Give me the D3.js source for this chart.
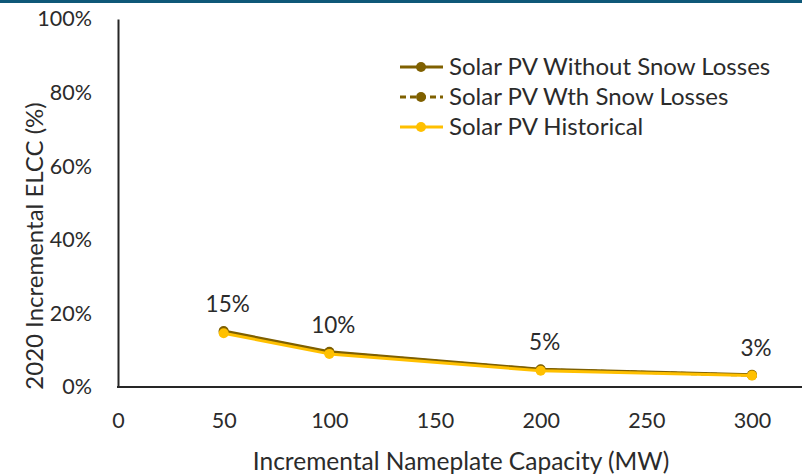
<!DOCTYPE html>
<html>
<head>
<meta charset="utf-8">
<script src="https://cdn.jsdelivr.net/npm/d3@7"></script>
<style>
  html, body { margin: 0; padding: 0; background: #fff; }
  svg { display: block; font-family: Lato, "Open Sans", sans-serif; font-weight: 400; }
</style>
</head>
<body>
<svg id="chart" width="802" height="475"></svg>
<script>
// Incremental nameplate capacity (MW) tested for each portfolio step
const capacity = [50, 100, 200, 300];

// Incremental ELCC (%) per series
const withoutSnow = [15.2, 9.6, 4.8, 3.3];
const withSnow = [15.0, 9.4, 4.7, 3.2];
const historical = [14.6, 9.0, 4.4, 3.1];

const seriesNames = ["Solar PV Without Snow Losses", "Solar PV Wth Snow Losses", "Solar PV Historical"];

const xTicks = [0, 50, 100, 150, 200, 250, 300];
const yTicks = [0, 20, 40, 60, 80, 100];

const svg = d3.select("#chart");
const W = 802, H = 475;

const x = d3.scaleLinear().domain([0, 300]).range([118, 752]);
const y = d3.scaleLinear().domain([0, 100]).range([387, 19]);

const textColor = "#2b2b2b";
const brown = "#7f6000";
const gold = "#ffc000";

// header rule across the top
svg.append("rect").attr("x", 0).attr("y", 0).attr("width", W).attr("height", 3).attr("fill", "#0e5878");

// y axis
const yAxis = svg.append("g").attr("transform", `translate(${x(0)},0)`)
  .call(d3.axisLeft(y).tickValues(yTicks).tickSize(0).tickPadding(26).tickFormat(d => d + "%"));
yAxis.select(".domain").attr("stroke", "#262626").attr("stroke-width", 2);
yAxis.selectAll("text").attr("fill", textColor).style("font-size", "21.5px");

// x axis (the line runs on to the right edge)
const xAxis = svg.append("g").attr("transform", `translate(0,${y(0)})`)
  .call(d3.axisBottom(x).tickValues(xTicks).tickSize(0).tickPadding(26));
xAxis.select(".domain").remove();
xAxis.append("line").attr("x1", x(0) - 1).attr("x2", W).attr("y1", 0).attr("y2", 0)
  .attr("stroke", "#262626").attr("stroke-width", 2);
xAxis.selectAll("text").attr("fill", textColor).style("font-size", "21.5px");
svg.selectAll("g").attr("font-family", null);

// axis titles
svg.append("text").attr("x", 461).attr("y", 470).attr("text-anchor", "middle")
  .attr("fill", textColor).style("font-size", "24.5px").text("Incremental Nameplate Capacity (MW)");
svg.append("text").attr("transform", "translate(43,246) rotate(-90)").attr("text-anchor", "middle")
  .attr("fill", textColor).style("font-size", "24px").text("2020 Incremental ELCC (%)");

const line = d3.line().x((d, i) => x(capacity[i])).y(d => y(d));

const series = [
  { values: withoutSnow, color: brown, dash: null },
  { values: withSnow, color: brown, dash: "6,4" },
  { values: historical, color: gold, dash: null }
];

series.forEach(s => {
  svg.append("path").datum(s.values).attr("d", line)
    .attr("fill", "none").attr("stroke", s.color).attr("stroke-width", 3)
    .attr("stroke-dasharray", s.dash).attr("stroke-linejoin", "round");
  svg.append("g").selectAll("circle").data(s.values).join("circle")
    .attr("cx", (d, i) => x(capacity[i])).attr("cy", d => y(d)).attr("r", 5)
    .attr("fill", s.color);
});

// value labels for the series without snow losses
svg.append("g").selectAll("text").data(withoutSnow).join("text")
  .attr("x", (d, i) => x(capacity[i]) + 4).attr("y", d => y(d) - 19)
  .attr("text-anchor", "middle").attr("fill", textColor).style("font-size", "22.5px")
  .text(d => Math.round(d) + "%");

// legend
const legend = svg.append("g");
const rowY = [67, 97, 127];
series.forEach((s, i) => {
  const g = legend.append("g").attr("transform", `translate(0,${rowY[i]})`);
  g.append("line").attr("x1", 400).attr("x2", 443).attr("y1", 0).attr("y2", 0)
    .attr("stroke", s.color).attr("stroke-width", 3).attr("stroke-dasharray", s.dash);
  g.append("circle").attr("cx", 421).attr("cy", 0).attr("r", 5).attr("fill", s.color);
  g.append("text").attr("x", 449).attr("y", 8).attr("fill", textColor)
    .style("font-size", "24px").text(seriesNames[i]);
});
</script>
</body>
</html>
